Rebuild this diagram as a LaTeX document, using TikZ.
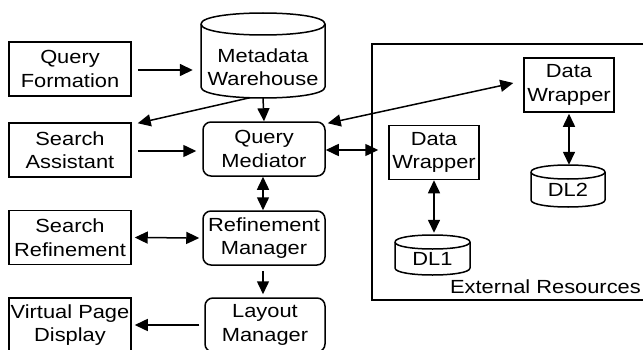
\documentclass[tikz,border=0pt]{standalone}
\usepackage{fontspec}
\setmainfont{Liberation Sans}[FakeStretch=1.15]
\usetikzlibrary{arrows.meta}
\tikzset{
  every node/.style={font=\fontsize{19pt}{23.5pt}\selectfont, align=center, inner sep=0pt},
  sqbox/.style={draw, line width=1.5pt, minimum width=122pt, minimum height=54pt},
  rdbox/.style={draw, line width=1.5pt, rounded corners=8pt, minimum width=122pt, minimum height=54pt},
  wrapbox/.style={draw, line width=1.5pt, minimum width=90pt, minimum height=54pt},
  ghost/.style={draw=none},
  cylline/.style={line width=1.5pt},
  tip/.style={},
  conn/.style={line width=1.5pt, -{Triangle[length=13pt,width=12pt]}},
  bconn/.style={line width=1.5pt, {Triangle[length=13pt,width=12pt]}-{Triangle[length=13pt,width=12pt]}}
}
\newcommand{\drawcyl}[5]{% x1 x2 topcenter botcenter ry
  \draw[cylline] (#1,#3) .. controls (#1,{#3-4/3*#5}) and (#2,{#3-4/3*#5}) .. (#2,#3)
     .. controls (#2,{#3+4/3*#5}) and (#1,{#3+4/3*#5}) .. (#1,#3);
  \draw[cylline] (#1,#3) -- (#1,#4) .. controls (#1,{#4+4/3*#5}) and (#2,{#4+4/3*#5}) .. (#2,#4) -- (#2,#3);
}
\begin{document}
\begin{tikzpicture}[x=1pt,y=-1pt]
\useasboundingbox (0,0) rectangle (644,350);
% external resources frame
\draw[line width=1.5pt] (643,44) -- (372,44) -- (372,300) -- (643,300);
\node[anchor=east] (ext) at (641,287) {External Resources};
% cylinders
\drawcyl{201}{325}{24}{87}{11}
\drawcyl{531}{605}{172}{200}{7}
\drawcyl{395}{470}{242}{268}{7}
% nodes
\node[sqbox] (qf) at (70,69) {Query\\Formation};
\node[sqbox] (sa) at (70,150) {Search\\Assistant};
\node[sqbox] (sr) at (70,237.5) {Search\\Refinement};
\node[sqbox] (vpd) at (70,325) {Virtual Page\\Display};
\node[ghost, minimum width=124pt, minimum height=61pt] (mw) at (263,67) {Metadata\\Warehouse};
\node[rdbox] (qm) at (264,149) {Query\\Mediator};
\node[rdbox] (rm) at (264,238) {Refinement\\Manager};
\node[rdbox, minimum width=120pt] (lm) at (265,325) {Layout\\Manager};
\node[wrapbox] (dw1) at (434,152.5) {Data\\Wrapper};
\node[wrapbox] (dw2) at (569,85) {Data\\Wrapper};
\node[ghost, minimum width=74pt, minimum height=33pt] (dl2) at (568,190) {DL2};
\node[ghost, minimum width=75pt, minimum height=33pt] (dl1) at (432.5,259) {DL1};
% connectors
\draw[conn] ([xshift=6pt,yshift=-1pt]qf.east) -- ([xshift=-8pt,yshift=-3pt]mw.west);
\draw[conn] ([xshift=6pt,yshift=-1pt]sa.east) -- ([xshift=-6pt,yshift=-2pt]qm.west);
\draw[conn] ([xshift=-13pt]mw.south) -- ([xshift=6pt,yshift=-1pt]sa.north east);
\draw[conn] (mw.south) -- (qm.north);
\draw[bconn] ([xshift=2pt,yshift=-2pt]qm.north east) -- ([xshift=-10pt,yshift=2pt]dw2.west);
\draw[bconn] ([yshift=-1pt]qm.east) -- ([xshift=-10pt,yshift=2.5pt]dw1.west);
\draw[bconn] ([xshift=-1pt]qm.south) -- ([xshift=-1pt]rm.north);
\draw[bconn] ([xshift=3pt]sr.east) -- ([xshift=-3pt]rm.west);
\draw[conn] ([xshift=-1pt,yshift=-5pt]rm.south) -- ([xshift=-2pt,yshift=3pt]lm.north);
\draw[conn] ([xshift=-5pt]lm.west) -- ([xshift=3pt]vpd.east);
\draw[bconn] ([yshift=-1pt]dw2.south) -- ([xshift=1pt,yshift=8.5pt]dl2.north);
\draw[bconn] (dw1.south) -- ([yshift=9.5pt]dw1.south |- dl1.north);
\end{tikzpicture}
\end{document}
